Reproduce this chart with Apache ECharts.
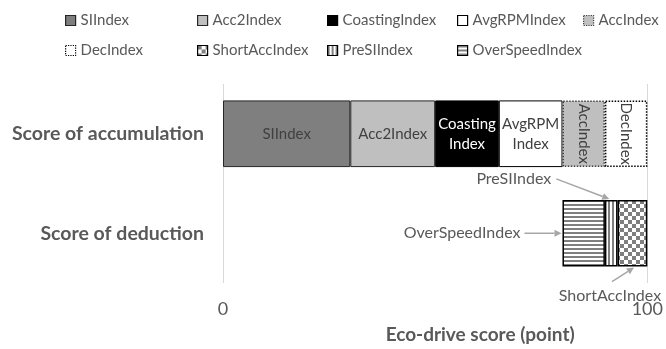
<!DOCTYPE html>
<html><head><meta charset="utf-8">
<script src="https://cdn.jsdelivr.net/npm/echarts@6/dist/echarts.min.js"></script>
<style>html,body{margin:0;padding:0;background:#fff}#c{width:666px;height:349px}</style>
</head><body><div id="c"></div>
<script>
// ---- data ----
const categories = ['Score of accumulation', 'Score of deduction'];
const accNames = ['SIIndex', 'Acc2Index', 'CoastingIndex', 'AvgRPMIndex', 'AccIndex', 'DecIndex'];
const accValues = [30, 20, 15, 15, 10, 10];
const dedOffset = 80;
const dedNames = ['OverSpeedIndex', 'PreSIIndex', 'ShortAccIndex'];
const dedValues = [10, 3, 7];
const legendOrder = ['SIIndex', 'Acc2Index', 'CoastingIndex', 'AvgRPMIndex', 'AccIndex', 'DecIndex', 'ShortAccIndex', 'PreSIIndex', 'OverSpeedIndex'];
const xTicks = [0, 100];

// ---- patterns ----
function mk(w, h, draw) { const c = document.createElement('canvas'); c.width = w; c.height = h; const g = c.getContext('2d'); g.fillStyle = '#fff'; g.fillRect(0, 0, w, h); g.fillStyle = '#7f7f7f'; draw(g); return { image: c, repeat: 'repeat' }; }
const hStripe = mk(4, 4, g => g.fillRect(0, 0, 4, 2));
const vStripe = mk(4, 4, g => g.fillRect(0, 0, 2, 4));
const checker = mk(8, 8, g => { g.fillRect(0, 0, 4, 4); g.fillRect(4, 4, 4, 4); });

const FONT = 'Lato';
const TXT = '#595959';
const styles = {
  SIIndex: { color: '#7f7f7f', borderColor: '#262626', borderWidth: 1, label: 'SIIndex', lc: '#404040' },
  Acc2Index: { color: '#bfbfbf', borderColor: '#262626', borderWidth: 1, label: 'Acc2Index', lc: '#404040' },
  CoastingIndex: { color: '#000', borderColor: '#000', borderWidth: 1, label: 'Coasting\nIndex', lc: '#fff' },
  AvgRPMIndex: { color: '#fff', borderColor: '#000', borderWidth: 1, label: 'AvgRPM\nIndex', lc: '#404040' },
  AccIndex: { color: '#bfbfbf', borderColor: '#404040', borderWidth: 1.5, borderType: 'dotted', label: 'AccIndex', lc: '#404040', rot: -90 },
  DecIndex: { color: '#fff', borderColor: '#000', borderWidth: 1.5, borderType: 'dotted', label: 'DecIndex', lc: '#404040', rot: -90 },
  OverSpeedIndex: { color: hStripe, borderColor: '#000', borderWidth: 1.5 },
  PreSIIndex: { color: vStripe, borderColor: '#000', borderWidth: 1.5 },
  ShortAccIndex: { color: checker, borderColor: '#000', borderWidth: 1.5 }
};

const series = [];
accNames.forEach((n, i) => {
  const s = styles[n];
  series.push({
    name: n, type: 'bar', stack: 'total', barWidth: '67%',
    data: [accValues[i], '-'],
    itemStyle: { color: s.color, borderColor: s.borderColor, borderWidth: s.borderWidth, borderType: s.borderType || 'solid' },
    label: { show: true, position: 'inside', formatter: s.label, color: s.lc, fontSize: 15, fontFamily: FONT, lineHeight: 20, rotate: s.rot || 0 },
    emphasis: { disabled: true }
  });
});
series.push({
  name: 'offset', type: 'bar', stack: 'total', data: ['-', dedOffset],
  itemStyle: { color: 'transparent' }, silent: true, emphasis: { disabled: true }
});
dedNames.forEach((n, i) => {
  const s = styles[n];
  series.push({
    name: n, type: 'bar', stack: 'total', barWidth: '67%',
    data: ['-', dedValues[i]],
    itemStyle: { color: s.color, borderColor: s.borderColor, borderWidth: s.borderWidth },
    emphasis: { disabled: true }
  });
});

const legX = [65, 197, 327, 457, 583];
const legY = [13, 43];
const legends = legendOrder.map((n, i) => {
  const s = styles[n];
  return {
    data: [{ name: n, itemStyle: { color: s.color, borderColor: s.borderColor, borderWidth: 1.2, borderType: s.borderType || 'solid' } }],
    left: legX[i % 5], top: legY[Math.floor(i / 5)], padding: 0,
    icon: 'rect', itemWidth: 10, itemHeight: 10, itemGap: 4, selectedMode: false,
    textStyle: { color: TXT, fontSize: 15, fontFamily: FONT, padding: [0, 0, 0, 0] }
  };
});

const chart = echarts.init(document.getElementById('c'), null, { renderer: 'canvas' });
chart.setOption({
  animation: false,
  textStyle: { fontFamily: FONT },
  legend: legends,
  grid: { left: 223, right: 14, top: 84, bottom: 63 },
  xAxis: {
    type: 'value', min: xTicks[0], max: xTicks[1], interval: xTicks[1] - xTicks[0],
    axisLine: { show: false }, axisTick: { show: false },
    splitLine: { show: true, lineStyle: { color: '#d9d9d9', width: 1 } },
    axisLabel: { color: TXT, fontSize: 18, fontFamily: FONT, margin: 17 },
    name: 'Eco-drive score (point)', nameLocation: 'middle', nameGap: 42,
    nameTextStyle: { color: TXT, fontSize: 19, fontWeight: 'bold', fontFamily: FONT, padding: [0, 0, 0, 90] }
  },
  yAxis: {
    type: 'category', data: categories, inverse: true,
    axisLine: { show: false }, axisTick: { show: false },
    axisLabel: { color: TXT, fontSize: 19.5, fontWeight: 'bold', fontFamily: FONT, margin: 19 }
  },
  series: series
});

// ---- annotations anchored to the deduction bar ----
const yc = chart.convertToPixel({ yAxisIndex: 0 }, categories[1]);
const bandH = chart.getModel().getComponent('yAxis').axis.getBandWidth();
const half = bandH * 0.67 / 2;
const xAt = v => chart.convertToPixel({ xAxisIndex: 0 }, v);
const left0 = xAt(dedOffset);
const preMid = xAt(dedOffset + dedValues[0] + dedValues[1] / 2);
const shortPt = xAt(dedOffset + dedValues[0] + dedValues[1] + dedValues[2] * 0.55);
const AC = '#a6a6a6';
function arrow(x1, y1, x2, y2) {
  const a = Math.atan2(y2 - y1, x2 - x1), L = 7, W = 3.5;
  const bx = x2 - L * Math.cos(a), by = y2 - L * Math.sin(a);
  return [
    { type: 'line', shape: { x1, y1, x2: bx, y2: by }, style: { stroke: AC, lineWidth: 1.5 }, silent: true },
    { type: 'polygon', shape: { points: [[x2, y2], [bx - W * Math.sin(a), by + W * Math.cos(a)], [bx + W * Math.sin(a), by - W * Math.cos(a)]] }, style: { fill: AC }, silent: true }
  ];
}
const tstyle = { fill: TXT, fontSize: 16, fontFamily: FONT };
const g = [];
// PreSIIndex
g.push({ type: 'text', x: preMid - 60, y: yc - half - 21, style: Object.assign({ text: 'PreSIIndex', align: 'right', verticalAlign: 'middle' }, tstyle), silent: true });
g.push(...arrow(preMid - 55, yc - half - 21, preMid - 2, yc - half - 1));
// OverSpeedIndex
g.push({ type: 'text', x: left0 - 42, y: yc, style: Object.assign({ text: 'OverSpeedIndex', align: 'right', verticalAlign: 'middle' }, tstyle), silent: true });
g.push(...arrow(left0 - 38, yc, left0 - 1, yc));
// ShortAccIndex
g.push({ type: 'text', x: shortPt - 24, y: yc + half + 29, style: Object.assign({ text: 'ShortAccIndex', align: 'center', verticalAlign: 'middle' }, tstyle), silent: true });
g.push(...arrow(shortPt - 22, yc + half + 15, shortPt, yc + half + 1));
chart.setOption({ graphic: g });
</script>
</body></html>
